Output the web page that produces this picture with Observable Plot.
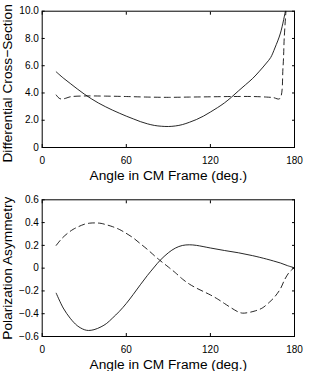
<!DOCTYPE html>
<html>
<head>
<meta charset="utf-8">
<script src="https://cdn.jsdelivr.net/npm/d3@7"></script>
<script src="https://cdn.jsdelivr.net/npm/@observablehq/plot@0.6"></script>
<style>
  html, body { margin: 0; padding: 0; background: white; }
  #chart svg { display: block; }
</style>
</head>
<body>
<div id="chart"></div>
<script>
// ---- Data ----
const angleTicks = [0, 60, 120, 180];

// Top panel: Differential Cross-Section
const csTicks = [0, 2, 4, 6, 8, 10];
const csSolidAngle = [10, 15, 20, 25, 30, 35, 40, 45, 50, 55, 60, 65, 70, 75, 80, 85, 90, 95, 100, 105, 110, 115, 120, 125, 130, 135, 140, 145, 150, 155, 160, 163, 166, 170, 173.5];
const csSolidValue = [5.55, 5.1, 4.7, 4.3, 3.92, 3.58, 3.27, 3.0, 2.75, 2.52, 2.3, 2.1, 1.9, 1.74, 1.62, 1.56, 1.54, 1.58, 1.68, 1.85, 2.05, 2.3, 2.6, 2.92, 3.27, 3.69, 4.15, 4.6, 5.05, 5.6, 6.2, 6.6, 7.3, 8.4, 10];
const csDashAngle = [10, 12, 14, 17, 20, 30, 45, 60, 75, 90, 105, 120, 135, 150, 160, 165, 169.4, 171.8, 172.7, 173.9];
const csDashValue = [3.85, 3.62, 3.55, 3.62, 3.72, 3.78, 3.77, 3.74, 3.7, 3.68, 3.7, 3.72, 3.74, 3.74, 3.7, 3.66, 3.58, 5.89, 8.09, 10];

// Bottom panel: Polarization Asymmetry
const paTicks = [-0.6, -0.4, -0.2, 0, 0.2, 0.4, 0.6];
const paSolidAngle = [10, 15, 20, 25, 30, 33, 37, 42, 46, 50, 55, 60, 65, 70, 75, 80, 84, 90, 95, 100, 105, 110, 120, 130, 140, 150, 160, 165, 170, 175, 180];
const paSolidValue = [-0.22, -0.35, -0.44, -0.505, -0.54, -0.547, -0.54, -0.515, -0.485, -0.44, -0.38, -0.31, -0.23, -0.146, -0.065, 0.01, 0.067, 0.135, 0.176, 0.199, 0.205, 0.2, 0.177, 0.155, 0.135, 0.11, 0.08, 0.063, 0.045, 0.022, 0.003];
const paDashAngle = [10, 14, 18, 22, 26, 30, 34, 38, 42, 46, 50, 55, 60, 65, 70, 75, 80, 84, 90, 95, 100, 105, 110, 115, 120, 125, 130, 135, 140, 143, 147, 152, 157, 162, 166, 170, 173, 176, 178, 180];
const paDashValue = [0.2, 0.26, 0.305, 0.34, 0.365, 0.385, 0.395, 0.397, 0.393, 0.38, 0.365, 0.34, 0.305, 0.265, 0.215, 0.165, 0.11, 0.068, 0.01, -0.04, -0.095, -0.14, -0.175, -0.205, -0.235, -0.27, -0.31, -0.35, -0.385, -0.395, -0.39, -0.375, -0.35, -0.3, -0.25, -0.18, -0.1, -0.04, -0.015, 0.003];

// ---- Build tables ----
const zip = (xs, ys) => xs.map((a, i) => ({a, v: ys[i]}));
const fontFamily = "'Liberation Sans', Arial, Helvetica, sans-serif";

function panel({height, marginTop, marginBottom, yDomain, yTicks, yFmt, yLabel, yLabelDy, solid, dashed, xLabelDy}) {
  return Plot.plot({
    width: 309, height, marginLeft: 41.7, marginRight: 15, marginTop, marginBottom,
    style: {fontFamily, background: "white", color: "black", overflow: "visible"},
    x: {domain: [0, 180]},
    y: {domain: yDomain},
    marks: [
      Plot.line(solid, {x: "a", y: "v", curve: "catmull-rom", stroke: "#000", strokeWidth: 0.85, clip: true}),
      Plot.line(dashed, {x: "a", y: "v", curve: "catmull-rom", stroke: "#000", strokeWidth: 0.85, strokeDasharray: "6,4", clip: true}),
      Plot.frame({stroke: "black", strokeWidth: 1}),
      Plot.axisX(angleTicks, {tickSize: 0, tickPadding: 9, fontSize: 10, label: null, tickFormat: d => String(d)}),
      Plot.axisX(angleTicks, {tickSize: -3, tickFormat: () => "", label: null}),
      Plot.axisX(angleTicks, {anchor: "top", tickSize: -3, tickFormat: () => "", label: null}),
      Plot.axisY(yTicks, {tickSize: 0, tickPadding: 3.4, fontSize: 10, label: null, tickFormat: yFmt}),
      Plot.axisY(yTicks, {tickSize: -3, tickFormat: () => "", label: null}),
      Plot.axisY(yTicks, {anchor: "right", tickSize: -3, tickFormat: () => "", label: null}),
      Plot.text(["Angle in CM Frame (deg.)"], {frameAnchor: "bottom", lineAnchor: "top", textAnchor: "middle", dy: xLabelDy, fontSize: 13.7, fill: "black"}),
      Plot.text([yLabel], {frameAnchor: "left", lineAnchor: "top", textAnchor: "middle", rotate: -90, dx: -40, dy: yLabelDy, fontSize: 13.7, fill: "black"})
    ]
  });
}

const fmt1 = d => d === 0 ? "0" : d3.format(".1f")(d).replace("-", "\u2212");

const topPanel = panel({
  height: 190, marginTop: 10.7, marginBottom: 43,
  yDomain: [0, 10], yTicks: csTicks, yFmt: fmt1,
  yLabel: "Differential Cross\u2212Section", yLabelDy: 4,
  solid: zip(csSolidAngle, csSolidValue), dashed: zip(csDashAngle, csDashValue),
  xLabelDy: 23
});
const bottomPanel = panel({
  height: 181, marginTop: 9.3, marginBottom: 35,
  yDomain: [-0.6, 0.6], yTicks: paTicks, yFmt: fmt1,
  yLabel: "Polarization Asymmetry", yLabelDy: 0,
  solid: zip(paSolidAngle, paSolidValue), dashed: zip(paDashAngle, paDashValue),
  xLabelDy: 23
});
document.getElementById("chart").append(topPanel, bottomPanel);
</script>
</body>
</html>
